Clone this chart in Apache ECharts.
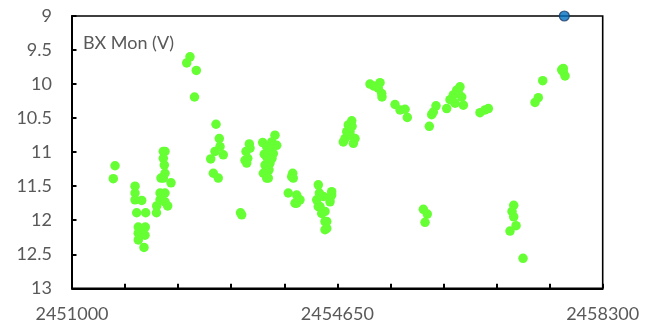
<!DOCTYPE html>
<html>
<head>
<meta charset="utf-8">
<script src="https://cdn.jsdelivr.net/npm/echarts@6/dist/echarts.min.js"></script>
<style>
  html, body { margin: 0; padding: 0; background: #fff; }
  #chart { width: 659px; height: 334px; }
</style>
</head>
<body>
<div id="chart"></div>
<script>
// Julian dates of the V-band observations of BX Mon
const obsJd = [
  2451592, 2451568,
  2451867, 2451867, 2451867, 2451959, 2451890, 2452014, 2451912, 2452008, 2451959, 2451912, 2452004, 2451912, 2451990,
  2452256, 2452279, 2452256, 2452270, 2452279, 2452224, 2452256, 2452362, 2452211, 2452279, 2452211, 2452279, 2452165, 2452316, 2452162,
  2452623, 2452578, 2452710, 2452685,
  2452981, 2453026, 2453036, 2452967, 2453081, 2452908, 2452944, 2453012,
  2453334, 2453318,
  2453439, 2453449, 2453394, 2453417, 2453380, 2453403,
  2453623, 2453678, 2453792, 2453747, 2453816, 2453724, 2453645, 2453769, 2453678, 2453655, 2453724, 2453700, 2453678, 2453632, 2453700, 2453678, 2453751, 2453710,
  2454036, 2454022, 2454044, 2453975, 2454091, 2454136, 2454091, 2454068,
  2454388, 2454402, 2454366, 2454457, 2454388, 2454411, 2454435, 2454480, 2454504, 2454480, 2454504, 2454480, 2454572, 2454549, 2454549, 2454572,
  2454848, 2454801, 2454824, 2454779, 2454755, 2454732, 2454824, 2454893, 2454870, 2454852,
  2455099, 2455154, 2455237, 2455213, 2455260, 2455264,
  2455443, 2455512, 2455581, 2455612,
  2455915, 2455948, 2455970, 2456007, 2456154,
  2456337, 2456292, 2456245, 2456223, 2456269, 2456361, 2456383, 2456314, 2456200,
  2456612, 2456681, 2456727,
  2457369, 2457414, 2457475,
  2457736, 2457758, 2457782, 2457758,
  2455833, 2455887, 2455856,
  2457076, 2457053, 2457076, 2457108, 2457025, 2457204
];

// V magnitudes, same order as obsJd
const obsMag = [
  11.20, 11.39,
  11.50, 11.60, 11.70, 11.71, 11.89, 11.89, 12.10, 12.10, 12.14, 12.19, 12.22, 12.29, 12.40,
  10.99, 10.99, 11.09, 11.19, 11.31, 11.38, 11.38, 11.45, 11.60, 11.60, 11.70, 11.73, 11.79, 11.79, 11.89,
  9.60, 9.69, 9.80, 10.19,
  10.59, 10.80, 10.92, 10.99, 11.04, 11.10, 11.31, 11.38,
  11.92, 11.89,
  10.88, 10.94, 10.99, 11.09, 11.12, 11.16,
  10.86, 10.92, 10.75, 10.85, 10.90, 10.97, 11.03, 11.02, 11.07, 11.19, 11.16, 11.19, 11.31, 11.31, 11.38, 11.38, 11.09, 11.26,
  11.31, 11.36, 11.38, 11.60, 11.63, 11.70, 11.75, 11.75,
  11.48, 11.60, 11.70, 11.65, 11.80, 11.80, 11.90, 11.87, 12.02, 12.02, 12.12, 12.14, 11.58, 11.68, 11.73, 11.63,
  10.54, 10.60, 10.70, 10.70, 10.80, 10.85, 10.75, 10.80, 10.87, 10.62,
  10.00, 10.03, 9.98, 10.06, 10.14, 10.19,
  10.30, 10.38, 10.37, 10.49,
  10.62, 10.45, 10.41, 10.32, 10.36,
  10.04, 10.09, 10.16, 10.23, 10.28, 10.19, 10.31, 10.13, 10.23,
  10.42, 10.38, 10.36,
  10.27, 10.20, 9.95,
  9.79, 9.77, 9.88, 9.82,
  11.84, 11.91, 12.03,
  11.78, 11.87, 11.95, 12.08, 12.16, 12.56
];

// Periastron marker
const markJd = [2457772];
const markMag = [9];

// Axis ranges and tick positions
const xMin = 2451000;
const xMax = 2458300;
const xTickStep = 730;
const xLabelValues = [2451000, 2454650, 2458300];
const yMin = 9;
const yMax = 13;
const yStep = 0.5;

const xTickValues = [];
for (let v = xMin; v <= xMax; v += xTickStep) xTickValues.push(v);

const obsData = obsJd.map((d, i) => [d, obsMag[i]]);
const markData = markJd.map((d, i) => [d, markMag[i]]);

const txt = '#595959';
const font = 'Lato';

const chart = echarts.init(document.getElementById('chart'), null, { renderer: 'canvas' });
chart.setOption({
  animation: false,
  backgroundColor: '#fff',
  grid: {
    left: 72, right: 56.3, top: 16, bottom: 45.7,
    show: true, borderColor: '#000', borderWidth: 1.6, backgroundColor: 'transparent'
  },
  graphic: [{
    type: 'text',
    left: 79, top: 33, z: 100,
    style: {
      text: 'BX Mon (V)',
      fill: txt,
      font: '18px ' + font,
      backgroundColor: '#fff',
      padding: [1, 8, 3, 4]
    }
  }],
  xAxis: {
    type: 'value',
    min: xMin, max: xMax,
    axisLine: { show: true, onZero: false, lineStyle: { color: '#000', width: 2 } },
    axisTick: { show: true, inside: true, length: 4.5, customValues: xTickValues, lineStyle: { color: '#000', width: 2 } },
    axisLabel: { customValues: xLabelValues, color: txt, fontFamily: font, fontSize: 18, margin: 17, formatter: v => String(v) },
    splitLine: { show: false }
  },
  yAxis: {
    type: 'value',
    inverse: true,
    min: yMin, max: yMax, interval: yStep,
    axisLine: { show: true, onZero: false, lineStyle: { color: '#000', width: 2 } },
    axisTick: { show: true, inside: true, length: 4.5, lineStyle: { color: '#000', width: 2 } },
    axisLabel: { color: txt, fontFamily: font, fontSize: 18, margin: 20 },
    splitLine: { show: false }
  },
  series: [
    {
      type: 'scatter',
      data: obsData,
      symbol: 'circle',
      symbolSize: 9.5,
      itemStyle: { color: '#66FF33', opacity: 1 },
      z: 2
    },
    {
      type: 'scatter',
      data: markData,
      symbol: 'circle',
      symbolSize: 10,
      clip: false,
      itemStyle: { color: '#0070C0', borderColor: '#1F3864', borderWidth: 1.2 },
      z: 3
    }
  ]
});
</script>
</body>
</html>
